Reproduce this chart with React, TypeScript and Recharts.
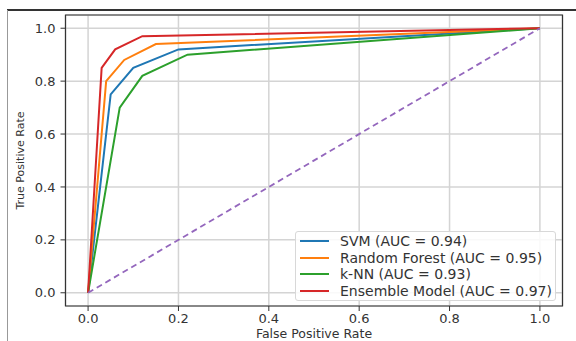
import React from 'react';
import { LineChart, Line, XAxis, YAxis, CartesianGrid, ReferenceArea } from 'recharts';

const svmFpr = [0, 0.05, 0.1, 0.2, 1];
const svmTpr = [0, 0.75, 0.85, 0.92, 1];
const rfFpr = [0, 0.04, 0.08, 0.15, 1];
const rfTpr = [0, 0.8, 0.88, 0.94, 1];
const knnFpr = [0, 0.07, 0.12, 0.22, 1];
const knnTpr = [0, 0.7, 0.82, 0.9, 1];
const ensFpr = [0, 0.03, 0.06, 0.12, 1];
const ensTpr = [0, 0.85, 0.92, 0.97, 1];
const diagFpr = [0, 1];
const diagTpr = [0, 1];

const seriesNames = [
  'SVM (AUC = 0.94)',
  'Random Forest (AUC = 0.95)',
  'k-NN (AUC = 0.93)',
  'Ensemble Model (AUC = 0.97)',
];
const seriesColors = ['#1f77b4', '#ff7f0e', '#2ca02c', '#d62728'];
const ticks = [0, 0.2, 0.4, 0.6, 0.8, 1.0];

const zip = (xs: number[], ys: number[]) => xs.map((x, i) => ({ x, y: ys[i] }));

const series = [
  zip(svmFpr, svmTpr),
  zip(rfFpr, rfTpr),
  zip(knnFpr, knnTpr),
  zip(ensFpr, ensTpr),
];
const diag = zip(diagFpr, diagTpr);

const FONT = '"DejaVu Sans", sans-serif';

export default function App() {
  return (
    <div style={{ position: 'absolute', left: 0, top: 0, width: 576, height: 341, background: '#fff', fontFamily: FONT }}>
      <div style={{ position: 'absolute', left: 7, top: 9, width: 569, height: 1.5, background: '#333' }} />
      <div style={{ position: 'absolute', left: 7, top: 10, width: 1, height: 331, background: '#999' }} />
      <div style={{ position: 'absolute', left: 0, top: 0 }}>
        <LineChart width={576} height={341} margin={{ top: 15, right: 13.5, left: 0, bottom: 0 }}>
          <CartesianGrid stroke="#d4d4d4" strokeWidth={1.5} />
          <XAxis
            dataKey="x"
            type="number"
            domain={[-0.05, 1.05]}
            ticks={ticks}
            allowDataOverflow
            height={35}
            axisLine={false}
            tickLine={{ stroke: '#333' }}
            tickSize={5}
            tickMargin={3}
            tick={{ fill: '#333', fontSize: 13, fontFamily: FONT }}
            tickFormatter={(v: number) => v.toFixed(1)}
            label={{ value: 'False Positive Rate', position: 'insideBottom', offset: 3, fill: '#333', fontSize: 12.5, fontFamily: FONT }}
          />
          <YAxis
            dataKey="y"
            type="number"
            domain={[-0.05, 1.05]}
            ticks={ticks}
            allowDataOverflow
            width={65.5}
            axisLine={false}
            tickLine={{ stroke: '#333' }}
            tickSize={5}
            tickMargin={5}
            tick={{ fill: '#333', fontSize: 13, fontFamily: FONT }}
            tickFormatter={(v: number) => v.toFixed(1)}
            label={{ value: 'True Positive Rate', angle: -90, position: 'center', dx: -13, fill: '#333', fontSize: 11, fontFamily: FONT }}
          />
          {series.map((d, i) => (
            <Line
              key={seriesNames[i]}
              data={d}
              dataKey="y"
              type="linear"
              stroke={seriesColors[i]}
              strokeWidth={2}
              dot={false}
              activeDot={false}
              isAnimationActive={false}
            />
          ))}
          <Line
            data={diag}
            dataKey="y"
            type="linear"
            stroke="#9467bd"
            strokeWidth={1.8}
            strokeDasharray="6 4"
            dot={false}
            activeDot={false}
            isAnimationActive={false}
          />
          <ReferenceArea x1={-0.05} x2={1.05} y1={-0.05} y2={1.05} fill="none" stroke="#333" strokeWidth={1.2} ifOverflow="visible" />
        </LineChart>
      </div>
      <div
        style={{
          position: 'absolute',
          left: 295,
          top: 231,
          width: 261,
          height: 70,
          boxSizing: 'border-box',
          border: '1px solid #d8d8d8',
          borderRadius: 3,
          background: 'rgba(255,255,255,0.85)',
          paddingTop: 1,
        }}
      >
        {seriesNames.map((n, i) => (
          <div key={n} style={{ display: 'flex', alignItems: 'center', height: 16.6 }}>
            <div style={{ marginLeft: 4, width: 29, height: 2, background: seriesColors[i] }} />
            <span style={{ marginLeft: 11, fontSize: 14, color: '#333', whiteSpace: 'nowrap', lineHeight: '16px' }}>{n}</span>
          </div>
        ))}
      </div>
    </div>
  );
}
